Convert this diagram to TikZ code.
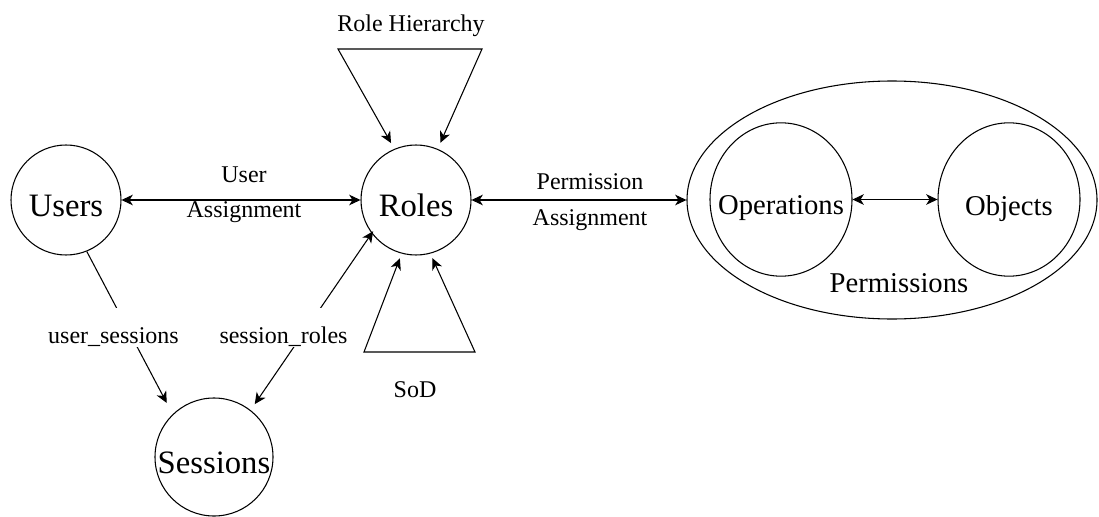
\documentclass[tikz,border=0pt]{standalone}
\usepackage{fontspec}
\setmainfont{Liberation Serif}
\usetikzlibrary{shapes.geometric, arrows.meta}

\begin{document}
\begin{tikzpicture}[x=0.75pt, y=-0.75pt,
  line width=0.8pt,
  >={Stealth[length=8.5pt, width=8pt, inset=2.5pt]},
  % main entities (Users, Roles, Sessions)
  entity/.style={circle, draw, inner sep=0pt,
    font=\fontsize{24.5}{28}\selectfont, text height=25pt, text depth=0pt},
  % parts of a permission (Operations, Objects)
  part/.style={ellipse, draw, inner sep=0pt,
    minimum width=106.5pt, minimum height=115pt,
    font=\fontsize{21.5}{26}\selectfont, text height=23pt, text depth=0pt},
  % two-line relation labels
  rel/.style={font=\fontsize{18}{26.5}\selectfont, align=center, inner sep=0pt},
  % labels laid over a connector
  tag/.style={font=\fontsize{18}{26}\selectfont, fill=white, anchor=base,
    inner xsep=1pt, inner ysep=0pt, text height=26pt, text depth=3pt},
  caption/.style={font=\fontsize{18}{26}\selectfont, anchor=base},
]
\useasboundingbox (0,0) rectangle (1099,517);

% entities
\node[entity, minimum size=82.5pt] (users) at (66,200) {\makebox[0pt]{Users}};
\node[entity, minimum size=82.5pt] (roles) at (416,200) {\makebox[0pt]{Roles}};
\node[entity, minimum size=88.5pt, text height=24pt] (sessions) at (214,457) {\makebox[0pt]{Sessions}};

% permissions group
\node[ellipse, draw, inner sep=0pt, minimum width=307.5pt, minimum height=178.5pt] (perm) at (892,200) {};
\node[part, text height=22.5pt] (ops) at (781,199.5) {\makebox[0pt]{Operations}};
\node[part, text height=24pt] (objs) at (1009,199.5) {\makebox[0pt]{Objects}};
\node[font=\fontsize{21.5}{26}\selectfont, anchor=base] (permtext) at (899,292) {Permissions};

% assignments
\draw[<->] (users) -- node[rel, xshift=2.25pt, yshift=4.1pt] {User\\Assignment} (roles);
\draw[<->] (roles) -- node[rel, xshift=8.25pt, yshift=-1.5pt] {Permission\\Assignment} (perm);
\draw[<->] (ops) -- (objs);

% role hierarchy
\coordinate (rhL) at (338,49);
\coordinate (rhR) at (482,49);
\draw[<->, shorten <=5pt, shorten >=5pt] (roles.113) -- (rhL) -- (rhR) -- (roles.67);
\node[caption] (rhtext) at (411,32) {Role Hierarchy};

% separation of duty
\coordinate (sodL) at (364,352);
\coordinate (sodR) at (475,352);
\draw[<->, shorten <=3.75pt, shorten >=3.75pt] (roles.255) -- (sodL) -- (sodR) -- (roles.285);
\node[caption] (sodtext) at (415,397) {SoD};

% sessions
\draw[->, shorten >=9.5pt] (users.-68) -- (sessions.134);
\draw[<->, shorten <=-2pt, shorten >=5.4pt] (roles.217) -- (sessions.52);
\node[tag] (us) at (113.5,343) {user\_sessions};
\node[tag] (sr) at (283.5,343) {session\_roles};
\end{tikzpicture}
\end{document}
